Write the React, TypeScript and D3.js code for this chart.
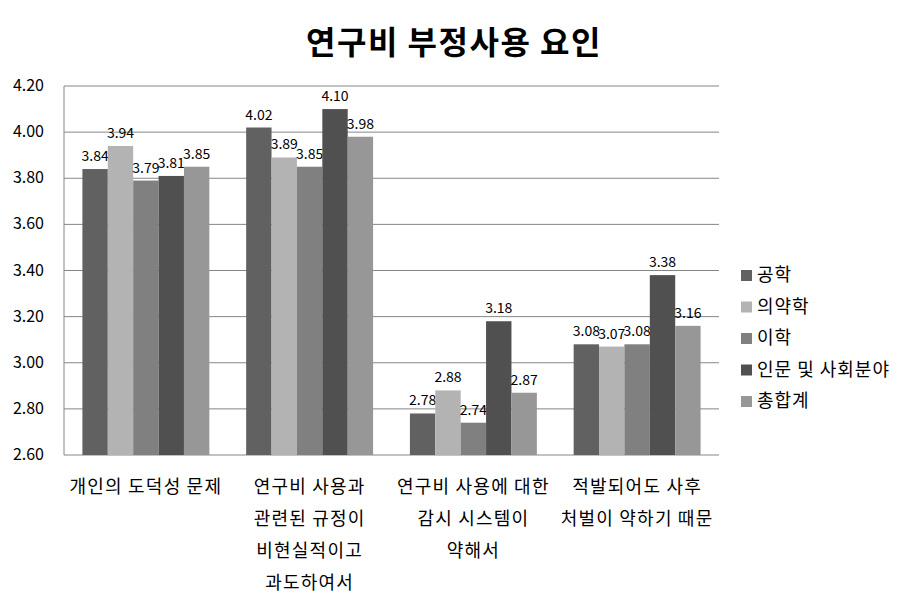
import React from 'react';
import * as d3 from 'd3';

const categories = [
  ['개인의 도덕성 문제'],
  ['연구비 사용과', '관련된 규정이', '비현실적이고', '과도하여서'],
  ['연구비 사용에 대한', '감시 시스템이', '약해서'],
  ['적발되어도 사후', '처벌이 약하기 때문'],
];
const seriesNames = ['공학', '의약학', '이학', '인문 및 사회분야', '총합계'];
const engineering = [3.84, 4.02, 2.78, 3.08];
const medicine = [3.94, 3.89, 2.88, 3.07];
const science = [3.79, 3.85, 2.74, 3.08];
const humanities = [3.81, 4.1, 3.18, 3.38];
const total = [3.85, 3.98, 2.87, 3.16];
const yTicks = [2.6, 2.8, 3.0, 3.2, 3.4, 3.6, 3.8, 4.0, 4.2];

const seriesValues = [engineering, medicine, science, humanities, total];
const colors = ['#616161', '#b3b3b3', '#808080', '#505050', '#979797'];

const FONT = '"Noto Sans CJK KR", "Noto Sans", sans-serif';

export default function App() {
  const width = 910;
  const height = 606;
  const left = 64;
  const right = 719;
  const top = 86;
  const bottom = 455;

  const y = d3.scaleLinear().domain([2.6, 4.2]).range([bottom, top]);
  const x0 = d3.scaleBand<number>().domain(d3.range(categories.length)).range([left, right]).padding(0);
  const groupInner = x0.bandwidth() * (5 / 6.45);
  const x1 = d3.scaleBand<number>()
    .domain(d3.range(seriesNames.length))
    .range([(x0.bandwidth() - groupInner) / 2, (x0.bandwidth() + groupInner) / 2])
    .padding(0);

  return (
    <svg width={width} height={height} style={{ position: 'absolute', left: 0, top: 0, fontFamily: FONT }}>
      <rect width={width} height={height} fill="#fff" />
      <text x={454} y={54} textAnchor="middle" fontSize={32} fontWeight="bold" letterSpacing={1.5} fill="#000">
        연구비 부정사용 요인
      </text>

      {yTicks.map((t) => (
        <g key={t}>
          <line x1={left} x2={right} y1={y(t)} y2={y(t)} stroke="#868686" strokeWidth={1} />
          <text x={44} y={y(t) + 5} textAnchor="end" fontSize={16} fill="#000">
            {t.toFixed(2)}
          </text>
        </g>
      ))}
      <line x1={left} x2={left} y1={top} y2={bottom} stroke="#868686" />

      {seriesValues.map((vals, si) => (
        <g key={si}>
          {vals.map((v, ci) => {
            const bx = (x0(ci) ?? 0) + (x1(si) ?? 0);
            const bw = x1.bandwidth();
            return (
              <g key={ci}>
                <rect x={bx} y={y(v)} width={bw} height={bottom - y(v)} fill={colors[si]} />
                <text x={bx + bw / 2} y={y(v) - 8} textAnchor="middle" fontSize={14} fill="#000">
                  {v.toFixed(2)}
                </text>
              </g>
            );
          })}
        </g>
      ))}

      {categories.map((lines, ci) => (
        <text key={ci} textAnchor="middle" fontSize={18} letterSpacing={1.2} fill="#000">
          {lines.map((l, li) => (
            <tspan key={li} x={(x0(ci) ?? 0) + x0.bandwidth() / 2} y={493 + li * 32}>
              {l}
            </tspan>
          ))}
        </text>
      ))}

      {seriesNames.map((name, si) => (
        <g key={name} transform={`translate(741, ${275 + si * 31.5})`}>
          <rect x={0} y={-5} width={11} height={11} fill={colors[si]} />
          <text x={16} y={6} fontSize={18} letterSpacing={1} fill="#000">
            {name}
          </text>
        </g>
      ))}
    </svg>
  );
}
